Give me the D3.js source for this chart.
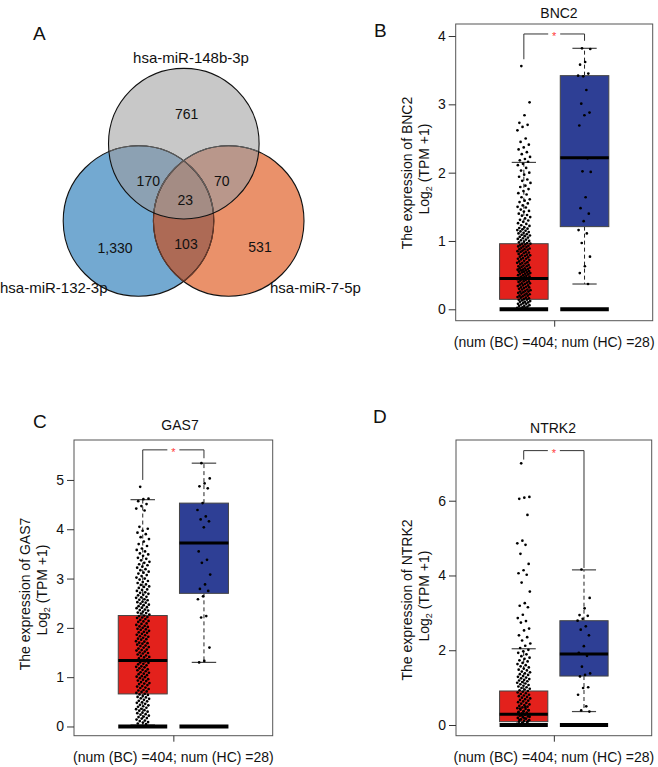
<!DOCTYPE html>
<html><head><meta charset="utf-8">
<script src="https://cdn.jsdelivr.net/npm/d3@7"></script>
<style>
body{margin:0;background:#fff}
svg{display:block}
text{font-family:"Liberation Sans",Arial,Helvetica,sans-serif;fill:#111}
</style>
</head><body>
<svg id="fig" width="658" height="767"></svg>
<script>
// ================= DATA =================
// Venn (panel A)
const vennSetLabels = ["hsa-miR-148b-3p", "hsa-miR-132-3p", "hsa-miR-7-5p"];
const vennRegionKeys = ["148b", "132", "7", "148b&132", "148b&7", "132&7", "148b&132&7"];
const vennRegionCounts = [761, 1330, 531, 170, 70, 103, 23];

// Box plots (panels B, C, D)
const groupNames = ["BC", "HC"];
const groupSizes = [404, 28];
const geneNames = ["BNC2", "GAS7", "NTRK2"];

// box stats: [lower whisker, Q1, median, Q3, upper whisker]
const bnc2StatsBC = [0, 0.146, 0.45, 0.96, 2.15];
const bnc2StatsHC = [0.37, 1.21, 2.22, 3.42, 3.82];
const gas7StatsBC = [0.03, 0.66, 1.34, 2.25, 4.60];
const gas7StatsHC = [1.30, 2.70, 3.72, 4.53, 5.34];
const ntrk2StatsBC = [0.02, 0.09, 0.29, 0.91, 2.04];
const ntrk2StatsHC = [0.36, 1.31, 1.90, 2.79, 4.15];

// significance bracket: [bar level, left leg end, right leg end]
const bnc2Bracket = [4.03, 3.66, 3.93];
const gas7Bracket = [5.61, 5.00, 5.44];
const ntrk2Bracket = [7.34, 7.10, 4.20];

const bnc2Ticks = [0, 1, 2, 3, 4];
const gas7Ticks = [0, 1, 2, 3, 4, 5];
const ntrk2Ticks = [0, 2, 4, 6];

// individual sample values
const bnc2HC = [3.82,3.81,3.62,3.58,3.45,3.41,3.42,3.21,3.01,2.88,2.84,2.69,2.21,2.02,2.01,1.64,1.48,1.40,1.29,1.16,1.11,0.97,0.77,0.63,0.53,0.37,0,0];
const bnc2BC = [3.56,3.03,2.84,2.73,2.70,2.67,2.62,2.50,2.45,2.41,2.37,2.34,2.30,2.27,2.23,2.20,2.18,2.16,2.13,2.11,2.07,2.03,2.00,1.97,1.94,1.90,1.88,1.85,1.81,1.79,1.76,1.73,1.70,1.68,1.64,1.61,1.59,1.57,1.55,1.52,1.50,1.49,1.46,1.44,1.43,1.40,1.38,1.37,1.35,1.33,1.31,1.30,1.28,1.26,1.25,1.23,1.22,1.20,1.19,1.18,1.17,1.16,1.15,1.14,1.13,1.12,1.11,1.10,1.09,1.08,1.07,1.06,1.05,1.04,1.03,1.02,1.01,1.00,
0.99,0.98,0.97,0.96,0.96,0.95,0.94,0.93,0.92,0.92,0.91,0.90,0.89,0.88,0.88,0.87,0.86,0.85,0.84,0.84,0.83,0.82,0.81,0.80,0.79,0.79,0.78,0.77,0.76,0.75,0.74,0.74,0.73,0.72,0.71,0.70,0.69,0.68,0.68,0.67,0.66,0.65,0.64,0.63,0.63,0.62,0.61,0.60,0.60,0.59,0.58,0.58,0.57,0.57,0.56,0.55,0.55,0.54,0.54,0.53,0.52,0.52,0.51,0.50,0.50,0.49,0.48,0.48,0.47,0.46,0.45,0.44,0.44,0.43,0.42,0.41,0.41,0.40,0.39,0.38,0.38,0.37,0.36,0.35,0.35,0.34,0.33,0.32,0.32,0.31,0.30,0.29,0.29,0.28,0.27,0.26,0.26,0.25,0.24,0.23,0.23,0.22,0.21,0.20,0.20,0.19,0.18,0.17,0.17,0.16,0.15,0.14,0.14,0.13,0.12,0.11,0.11,0.10,0.09,0.08,0.08,0.07,0.06,0.05,0.05,0.04,0.03,0.02,0.02,0.01,0,0,0,0,0,0];

const gas7HC = [5.34,5.03,4.93,4.87,4.83,4.53,4.39,4.26,4.20,4.16,4.04,3.55,3.38,3.32,3.08,2.88,2.79,2.75,2.64,2.58,2.24,2.21,1.60,1.33,1.30,0,0,0];
const gas7BC = [4.86,4.62,4.61,4.57,4.51,4.47,4.42,4.38,4.05,4.01,3.97,3.93,3.90,3.84,3.80,3.75,3.70,3.66,3.61,3.58,3.55,3.51,3.49,3.46,3.42,3.40,3.37,3.34,3.32,3.29,3.27,3.24,3.22,3.19,3.17,3.14,3.12,3.10,3.07,3.05,3.02,3.00,2.98,2.95,2.93,2.91,2.88,2.87,2.84,2.83,2.81,2.78,2.77,2.75,2.72,2.71,2.69,2.67,2.66,2.63,2.62,2.61,2.58,2.57,2.56,2.53,2.52,2.51,2.49,2.47,2.46,2.44,2.42,2.41,2.40,2.37,2.36,2.35,2.33,2.31,2.30,2.29,2.27,2.25,2.24,2.22,2.21,2.20,2.18,2.16,2.14,2.13,2.12,2.09,2.08,2.06,2.04,2.03,2.02,2.00,1.98,1.97,1.96,1.94,1.92,1.91,1.90,1.88,1.86,1.85,1.83,1.82,1.80,1.78,1.77,1.76,1.73,1.72,1.70,1.69,1.68,1.66,1.64,1.63,1.61,1.60,1.58,1.56,1.55,1.54,1.52,1.50,1.49,1.48,1.46,1.44,1.43,1.41,1.40,1.38,1.36,1.35,1.34,1.32,1.30,1.29,1.27,1.26,1.24,1.22,1.21,1.20,1.18,1.16,1.15,1.14,1.12,1.10,1.09,1.07,1.06,1.04,1.02,1.01,1.00,0.98,0.96,0.95,0.93,0.92,0.90,0.88,0.87,0.86,0.84,0.82,0.81,0.79,0.78,0.76,0.74,0.73,0.71,0.70,0.68,0.66,0.65,0.64,0.62,0.60,0.59,0.57,0.56,0.54,0.52,0.51,0.49,0.48,0.46,0.44,0.43,0.41,0.40,0.38,0.36,0.35,0.33,0.32,0.30,0.28,0.27,0.25,0.24,0.22,0.20,0.19,0.17,0.16,0.14,0.12,0.11,0.09,0.08,0.06,0.05,0,0,0,0];

const ntrk2HC = [4.16,3.40,3.12,2.94,2.92,2.84,2.79,2.64,2.55,2.40,2.11,1.93,1.85,1.56,1.38,1.34,1.30,1.01,0.99,0.81,0.50,0.39,0.36,0,0,0,0,0];
const ntrk2BC = [7.00,6.10,6.08,6.05,5.62,4.93,4.86,4.82,4.58,4.31,4.14,4.06,4.02,3.81,3.57,3.26,3.19,3.15,2.95,2.86,2.78,2.74,2.58,2.53,2.40,2.35,2.26,2.18,2.12,2.06,2.01,1.97,1.93,1.89,1.84,1.80,1.77,1.73,1.70,1.66,1.63,1.60,1.57,1.54,1.51,1.48,1.46,1.43,1.41,1.38,1.36,1.34,1.31,1.29,1.27,1.25,1.23,1.21,1.19,1.17,1.15,1.13,1.11,1.09,1.07,1.05,1.03,1.01,0.99,0.97,0.95,0.93,0.91,0.89,0.87,0.85,0.83,0.81,0.79,0.77,0.75,0.73,0.71,0.69,0.67,0.65,0.63,0.61,0.59,0.57,0.55,0.53,0.51,0.49,0.47,0.45,0.43,0.41,0.39,0.37,0.35,0.33,0.31,0.29,0.27,0.25,0.23,0.21,0.19,0.17,0.15,0.13,0.11,0.09,0.07,0.05,0.03,0.48,0.44,0.40,0.36,0.33,0.30,0.26,0.22,0.18,0.14,0.10,0.06,0.02,0,0,0,0];

// ================= DRAW =================
const svg = d3.select("#fig");
const fmt = d3.format(",");

// ---------- Panel letters ----------
const panelLetters = [["A",33,40],["B",374,37],["C",33,428],["D",373,423]];
svg.selectAll("text.plabel").data(panelLetters).join("text")
  .attr("class","plabel").attr("x",d=>d[1]).attr("y",d=>d[2])
  .attr("font-size",19).text(d=>d[0]);

// ---------- Venn ----------
(function drawVenn(){
  const r = 75.3;
  const circ = {
    "148b": {cx:183.8, cy:143.7},
    "132":  {cx:138.5, cy:221},
    "7":    {cx:228.7, cy:221}
  };
  const col = {
    "148b":"#c8c8c8", "132":"#73a9d1", "7":"#ea916a",
    "148b&132":"#8ca1b3", "148b&7":"#b9978b", "132&7":"#ad6a55", "148b&132&7":"#a48c84"
  };
  const defs = svg.append("defs");
  Object.entries(circ).forEach(([k,c])=>{
    defs.append("clipPath").attr("id","clip"+k.replace(/\W/g,""))
      .append("circle").attr("cx",c.cx).attr("cy",c.cy).attr("r",r);
  });
  const g = svg.append("g");
  const circle = (parent,k)=>parent.append("circle").attr("cx",circ[k].cx).attr("cy",circ[k].cy).attr("r",r);
  circle(g,"132").attr("fill",col["132"]);
  circle(g,"7").attr("fill",col["7"]);
  circle(g,"7").attr("fill",col["132&7"]).attr("clip-path","url(#clip132)");
  circle(g,"148b").attr("fill",col["148b"]);
  circle(g,"148b").attr("fill",col["148b&132"]).attr("clip-path","url(#clip132)");
  circle(g,"148b").attr("fill",col["148b&7"]).attr("clip-path","url(#clip7)");
  const tg = g.append("g").attr("clip-path","url(#clip7)");
  circle(tg,"148b").attr("fill",col["148b&132&7"]).attr("clip-path","url(#clip132)");
  // outlines
  ["132","7"].forEach(k=>circle(g,k).attr("fill","none").attr("stroke","#111").attr("stroke-width",1.1));
  circle(g,"132").attr("fill","none").attr("stroke","#6a3a2b").attr("stroke-width",1.1).attr("clip-path","url(#clip7)");
  circle(g,"7").attr("fill","none").attr("stroke","#6a3a2b").attr("stroke-width",1.1).attr("clip-path","url(#clip132)");
  ["132","7"].forEach(k=>circle(g,k).attr("fill","none").attr("stroke","#606060").attr("stroke-width",1.1).attr("clip-path","url(#clip148b)"));
  circle(g,"148b").attr("fill","none").attr("stroke","#111").attr("stroke-width",1.1);

  // counts
  const countPos = {"148b":[186.7,114],"132":[115,247.5],"7":[260,247],"148b&132":[148.3,181],"148b&7":[221.7,181],"132&7":[186,244],"148b&132&7":[185.3,199.5]};
  vennRegionKeys.forEach((k,i)=>{
    g.append("text").attr("x",countPos[k][0]).attr("y",countPos[k][1]+5)
      .attr("text-anchor","middle").attr("font-size",14).text(fmt(vennRegionCounts[i]));
  });
  // set labels
  g.append("text").attr("x",191).attr("y",63).attr("text-anchor","middle").attr("font-size",15).text(vennSetLabels[0]);
  g.append("text").attr("x",0).attr("y",293).attr("text-anchor","start").attr("font-size",15).text(vennSetLabels[1]);
  g.append("text").attr("x",270).attr("y",293).attr("text-anchor","start").attr("font-size",15).text(vennSetLabels[2]);
})();

// ---------- Box panels ----------
const boxColors = ["#e3211c", "#2e3f95"];

function drawPanel(cfg){
  const [x0,x1,y0,y1] = cfg.frame;
  const x = d3.scaleLinear().domain([1.5-1.623, 1.5+1.623]).range([x0,x1]);
  const y = d3.scaleLinear().domain(cfg.domain).range([y1,y0]);
  const g = svg.append("g");

  // frame
  g.append("rect").attr("x",x0).attr("y",y0).attr("width",x1-x0).attr("height",y1-y0)
    .attr("fill","none").attr("stroke","#555").attr("stroke-width",1);

  // y axis
  const ya = g.append("g").attr("transform",`translate(${x0},0)`)
    .call(d3.axisLeft(y).tickValues(cfg.ticks).tickSize(7).tickPadding(3).tickFormat(d3.format("d")));
  ya.select(".domain").remove();
  ya.selectAll(".tick line").attr("stroke","#333");
  ya.selectAll(".tick text").attr("font-size",14).attr("font-family","Liberation Sans, Arial, sans-serif").attr("fill","#111");

  // x axis (single tick)
  const xa = g.append("g").attr("transform",`translate(0,${y1})`)
    .call(d3.axisBottom(x).tickValues([1.5]).tickSize(6).tickFormat(""));
  xa.select(".domain").remove();
  xa.selectAll(".tick line").attr("stroke","#333");

  g.append("text").attr("x",x(1.5)).attr("y",y1+26).attr("text-anchor","middle").attr("font-size",14)
    .text(`(num (${groupNames[0]}) =${groupSizes[0]}; num (${groupNames[1]}) =${groupSizes[1]})`);

  // title
  g.append("text").attr("x",cfg.titleX).attr("y",cfg.titleY).attr("text-anchor","middle").attr("font-size",14).text(cfg.gene);

  // y label
  const yl = g.append("text").attr("transform",`translate(${x0-44},${cfg.ylabY}) rotate(-90)`)
    .attr("text-anchor","middle").attr("font-size",14).text(`The expression of ${cfg.gene}`);
  const yl2 = g.append("text").attr("transform",`translate(${x0-27},${cfg.ylabY-4}) rotate(-90)`)
    .attr("text-anchor","middle").attr("font-size",14);
  yl2.append("tspan").text("Log");
  yl2.append("tspan").attr("font-size",9).attr("dy",3).text("2");
  yl2.append("tspan").attr("dy",-3).text(" (TPM +1)");

  const hw = 0.4, cap = 0.2, jit = 0.11;
  cfg.groups.forEach((grp,i)=>{
    const c = i+1;
    const [lo,q1,md,q3,hi] = grp.stats;
    // whiskers
    g.append("line").attr("x1",x(c)).attr("x2",x(c)).attr("y1",y(q3)).attr("y2",y(hi))
      .attr("stroke","#222").attr("stroke-dasharray","4,3");
    g.append("line").attr("x1",x(c)).attr("x2",x(c)).attr("y1",y(q1)).attr("y2",y(lo))
      .attr("stroke","#222").attr("stroke-dasharray","4,3");
    [lo,hi].forEach(v=>g.append("line").attr("x1",x(c-cap)).attr("x2",x(c+cap)).attr("y1",y(v)).attr("y2",y(v))
      .attr("stroke","#444").attr("stroke-width",1.2));
    // box
    g.append("rect").attr("x",x(c-hw)).attr("width",x(c+hw)-x(c-hw))
      .attr("y",y(q3)).attr("height",y(q1)-y(q3))
      .attr("fill",boxColors[i]).attr("stroke","#444").attr("stroke-width",1);
    // points
    g.append("g").selectAll("circle").data(grp.values).join("circle")
      .attr("cx",(d,j)=>x(c + jit*(2*(((j*0.6180339)+0.31)%1)-1)))
      .attr("cy",d=>y(d)).attr("r",1.35).attr("fill","#000");
    // median
    g.append("line").attr("x1",x(c-hw)).attr("x2",x(c+hw)).attr("y1",y(md)).attr("y2",y(md))
      .attr("stroke","#000").attr("stroke-width",3);
    // zero bar
    g.append("line").attr("x1",x(c-hw)).attr("x2",x(c+hw)).attr("y1",y(0)).attr("y2",y(0))
      .attr("stroke","#000").attr("stroke-width",4);
  });

  // bracket
  const [bv,bl,br] = cfg.bracket;
  const xm = x(1.5);
  g.append("path").attr("d",`M${x(1)},${y(bl)}V${y(bv)}H${xm-6}`).attr("fill","none").attr("stroke","#333");
  g.append("path").attr("d",`M${xm+6},${y(bv)}H${x(2)}V${y(br)}`).attr("fill","none").attr("stroke","#333");
  g.append("text").attr("x",xm).attr("y",y(bv)+6).attr("text-anchor","middle")
    .attr("font-size",11).style("fill","#ff3b3b").text("*");
}

drawPanel({gene:geneNames[0], frame:[455.7,652.7,24,320.7], domain:[-0.167,4.176], ticks:bnc2Ticks,
  titleX:559, titleY:18, ylabY:173, bracket:bnc2Bracket,
  groups:[{stats:bnc2StatsBC, values:bnc2BC},{stats:bnc2StatsHC, values:bnc2HC}]});
drawPanel({gene:geneNames[1], frame:[74,272.7,440,735.7], domain:[-0.187,5.81], ticks:gas7Ticks,
  titleX:180, titleY:430, ylabY:594, bracket:gas7Bracket,
  groups:[{stats:gas7StatsBC, values:gas7BC},{stats:gas7StatsHC, values:gas7HC}]});
drawPanel({gene:geneNames[2], frame:[456,651.7,440,735.7], domain:[-0.286,7.624], ticks:ntrk2Ticks,
  titleX:553, titleY:433, ylabY:600, bracket:ntrk2Bracket,
  groups:[{stats:ntrk2StatsBC, values:ntrk2BC},{stats:ntrk2StatsHC, values:ntrk2HC}]});
</script>
</body></html>
